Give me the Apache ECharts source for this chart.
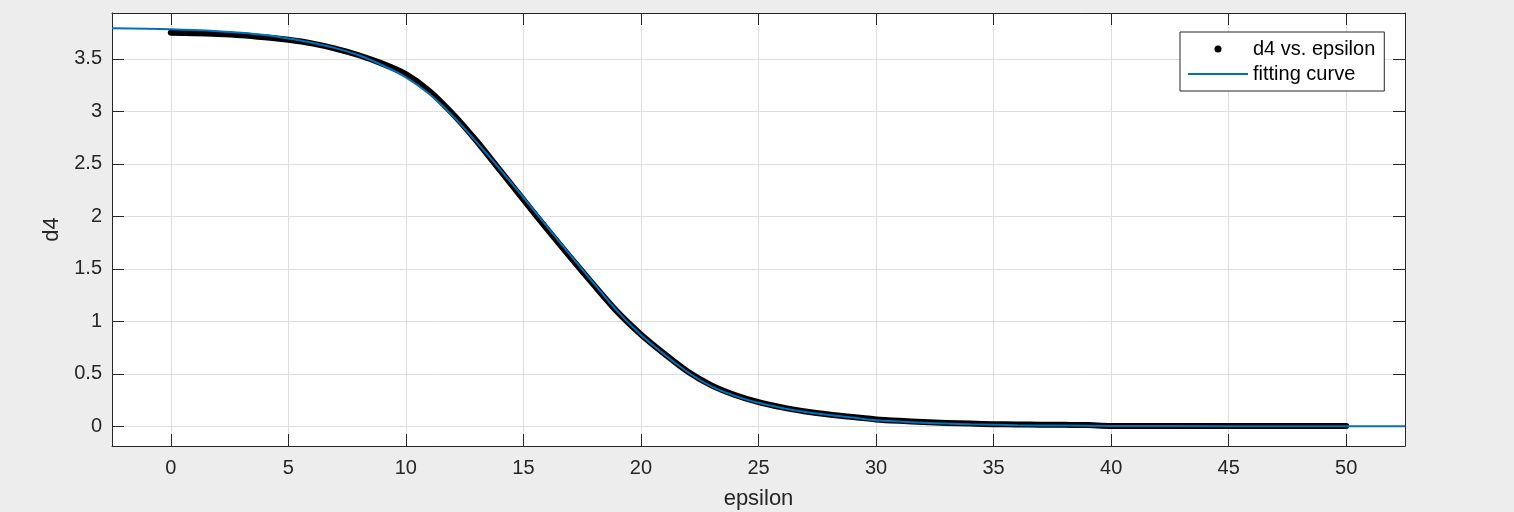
<!DOCTYPE html>
<html>
<head>
<meta charset="utf-8">
<script src="https://cdn.jsdelivr.net/npm/echarts@6/dist/echarts.min.js"></script>
<style>
html,body{margin:0;padding:0;background:#ededed;}
#chart{width:1514px;height:512px;}
</style>
</head>
<body>
<div id="chart"></div>
<script>
// measured data (black dots): epsilon vs d4
const dataX = [0, 1, 2, 3, 4, 5, 6, 7, 8, 9, 10, 11, 12, 13, 14, 15, 16, 17, 18, 19, 20, 21, 22, 23, 24, 25, 26, 27, 28, 29, 30, 31, 32, 33, 34, 35, 36, 37, 38, 39, 40, 45, 50];
const dataY = [3.750, 3.745, 3.738, 3.726, 3.706, 3.682, 3.648, 3.598, 3.535, 3.455, 3.355, 3.195, 2.975, 2.72, 2.44, 2.16, 1.88, 1.61, 1.345, 1.09, 0.875, 0.69, 0.52, 0.39, 0.298, 0.23, 0.18, 0.142, 0.112, 0.088, 0.066, 0.052, 0.041, 0.032, 0.026, 0.02, 0.018, 0.016, 0.014, 0.012, 0.004, 0.003, 0.003];

// fitting curve (blue)
const fitX = [-2.5, -1, 0, 1, 2, 3, 4, 5, 6, 7, 8, 9, 10, 11, 12, 13, 14, 15, 16, 17, 18, 19, 20, 21, 22, 23, 24, 25, 26, 27, 28, 29, 30, 31, 32, 33, 34, 35, 36, 38, 40, 45, 50, 52.5];
const fitY = [3.793, 3.788, 3.782, 3.775, 3.764, 3.749, 3.727, 3.695, 3.655, 3.603, 3.535, 3.44, 3.325, 3.165, 2.955, 2.71, 2.45, 2.18, 1.905, 1.63, 1.36, 1.095, 0.87, 0.685, 0.515, 0.38, 0.29, 0.224, 0.175, 0.137, 0.107, 0.083, 0.058, 0.045, 0.034, 0.026, 0.02, 0.015, 0.011, 0.007, 0.004, 0.001, 0.0, 0.0];

const xTicks = [0, 5, 10, 15, 20, 25, 30, 35, 40, 45, 50];
const yTicks = [0, 0.5, 1, 1.5, 2, 2.5, 3, 3.5];

const seriesNames = ['d4 vs. epsilon', 'fitting curve'];
const xName = 'epsilon';
const yName = 'd4';

const FONT = '"Liberation Sans", Helvetica, Arial, sans-serif';
const AX = '#262626';
const GRIDC = '#dedede';

const chart = echarts.init(document.getElementById('chart'), null, {renderer: 'canvas'});

const pairs = (xs, ys) => xs.map((x, i) => [x, ys[i]]);

const xLim = [-2.5, 52.5];
const yLim = [-0.1875, 3.9375];

function xAxisDef(pos, main) {
  return {
    type: 'value', position: pos, min: xLim[0], max: xLim[1],
    name: main ? xName : '', nameLocation: 'middle', nameGap: 42,
    nameTextStyle: {fontFamily: FONT, fontSize: 22, color: AX},
    axisLine: {show: true, onZero: false, lineStyle: {color: AX, width: 1}},
    axisTick: {show: true, inside: true, length: 12, customValues: xTicks, lineStyle: {color: AX, width: 1}},
    axisLabel: {show: main, customValues: xTicks, margin: 12, fontFamily: FONT, fontSize: 20, color: AX, lineHeight: 20},
    splitLine: {show: main, lineStyle: {color: GRIDC, width: 1}}
  };
}
function yAxisDef(pos, main) {
  return {
    type: 'value', position: pos, min: yLim[0], max: yLim[1],
    name: main ? yName : '', nameLocation: 'middle', nameGap: 45, nameRotate: 90,
    nameTextStyle: {fontFamily: FONT, fontSize: 22, color: AX},
    axisLine: {show: true, onZero: false, lineStyle: {color: AX, width: 1}},
    axisTick: {show: true, inside: true, length: 12, customValues: yTicks, lineStyle: {color: AX, width: 1}},
    axisLabel: {show: main, customValues: yTicks, margin: 10, fontFamily: FONT, fontSize: 20, color: AX},
    splitLine: {show: main, lineStyle: {color: GRIDC, width: 1}}
  };
}

chart.setOption({
  animation: false,
  backgroundColor: '#ededed',
  grid: {left: 112, top: 13, width: 1293, height: 433, show: true, backgroundColor: '#ffffff', borderWidth: 0,
         containLabel: false, outerBoundsMode: 'none'},
  xAxis: [xAxisDef('bottom', true), xAxisDef('top', false)],
  yAxis: [yAxisDef('left', true), yAxisDef('right', false)],
  legend: {
    orient: 'vertical', left: 1180, top: 32,
    padding: [7, 9, 7, 8], itemGap: 5, itemWidth: 60, itemHeight: 7,
    backgroundColor: '#ffffff', borderColor: AX, borderWidth: 1, borderRadius: 0,
    selectedMode: false,
    itemStyle: {borderWidth: 0},
    textStyle: {fontFamily: FONT, fontSize: 20, color: '#000', lineHeight: 20},
    data: [
      {name: seriesNames[0], icon: 'circle'},
      {name: seriesNames[1], icon: 'path://M0,0H60V2H0Z'}
    ]
  },
  series: [
    {
      name: seriesNames[0], type: 'line', xAxisIndex: 0, yAxisIndex: 0,
      data: pairs(dataX, dataY), smooth: 0.25,
      symbol: 'none', color: '#000000',
      lineStyle: {color: '#000000', width: 6, cap: 'round', join: 'round'},
      itemStyle: {color: '#000000'}, z: 2
    },
    {
      name: seriesNames[1], type: 'line', xAxisIndex: 0, yAxisIndex: 0,
      data: pairs(fitX, fitY), smooth: 0.25,
      symbol: 'none', color: '#0072BD',
      lineStyle: {color: '#0072BD', width: 2},
      itemStyle: {color: '#0072BD'}, z: 3
    }
  ]
});
</script>
</body>
</html>
